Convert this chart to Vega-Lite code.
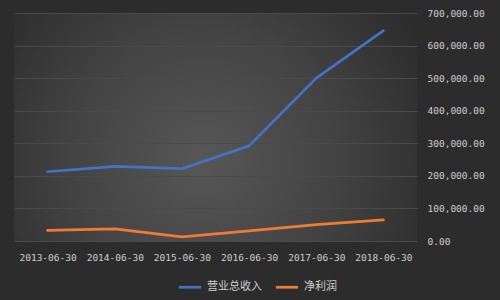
{
  "$schema": "https://vega.github.io/schema/vega-lite/v6.json",
  "width": 403,
  "height": 228,
  "autosize": {"type": "none"},
  "padding": {"left": 14, "top": 13, "right": 83, "bottom": 59},
  "background": "#2c2c2c",
  "config": {
    "view": {
      "stroke": null,
      "fill": {"gradient": "radial", "x1": 0.47, "y1": 0.58, "r1": 0, "x2": 0.47, "y2": 0.58, "r2": 0.62,
        "stops": [{"offset": 0, "color": "#575757"}, {"offset": 0.55, "color": "#424242"}, {"offset": 1, "color": "#2c2c2c"}]}
    }
  },
  "data": {"values": [
    {"date": "2013-06-30", "series": "营业总收入", "value": 212600},
    {"date": "2014-06-30", "series": "营业总收入", "value": 229000},
    {"date": "2015-06-30", "series": "营业总收入", "value": 222000},
    {"date": "2016-06-30", "series": "营业总收入", "value": 292000},
    {"date": "2017-06-30", "series": "营业总收入", "value": 500000},
    {"date": "2018-06-30", "series": "营业总收入", "value": 646000},
    {"date": "2013-06-30", "series": "净利润", "value": 32500},
    {"date": "2014-06-30", "series": "净利润", "value": 37000},
    {"date": "2015-06-30", "series": "净利润", "value": 13000},
    {"date": "2016-06-30", "series": "净利润", "value": 31000},
    {"date": "2017-06-30", "series": "净利润", "value": 50000},
    {"date": "2018-06-30", "series": "净利润", "value": 65000}
  ]},
  "mark": {"type": "line", "strokeWidth": 2.75, "strokeCap": "round", "strokeJoin": "round"},
  "encoding": {
    "x": {
      "field": "date", "type": "ordinal",
      "scale": {"type": "point", "padding": 0.5},
      "axis": {"title": null, "labelAngle": 0, "domain": false, "ticks": false, "grid": false,
        "labelPadding": 11, "labelColor": "#cccccc", "labelFont": "DejaVu Sans Mono", "labelFontSize": 9.5}
    },
    "y": {
      "field": "value", "type": "quantitative",
      "scale": {"domain": [0, 700000], "nice": false},
      "axis": {"title": null, "orient": "right", "values": [0, 100000, 200000, 300000, 400000, 500000, 600000, 700000],
        "format": ",.2f", "domain": false, "ticks": false, "gridColor": "#4a4a4a", "gridWidth": 1,
        "labelPadding": 10, "labelColor": "#cccccc", "labelFont": "DejaVu Sans Mono", "labelFontSize": 9.5}
    },
    "color": {
      "field": "series", "type": "nominal",
      "scale": {"domain": ["营业总收入", "净利润"], "range": ["#4472c4", "#ed7d31"]},
      "legend": {"title": null, "orient": "none", "direction": "horizontal", "legendX": 163, "legendY": 261,
        "symbolType": "stroke", "symbolSize": 500, "symbolStrokeWidth": 2.75,
        "labelColor": "#d0d0d0", "labelFont": "Noto Sans CJK SC", "labelFontSize": 11, "columnPadding": 8}
    }
  }
}
